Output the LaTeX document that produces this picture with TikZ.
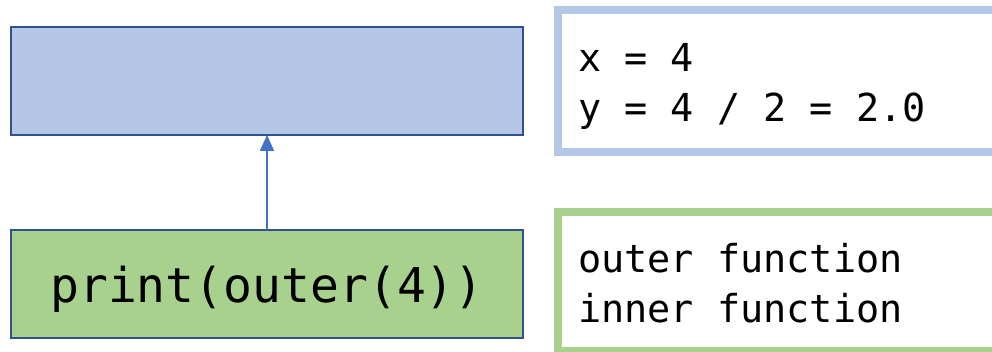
\documentclass[tikz,border=0pt]{standalone}
\usepackage{fontspec}
\setmonofont{DejaVu Sans Mono}
\usetikzlibrary{arrows.meta}
\definecolor{boxblue}{HTML}{B4C7E7}
\definecolor{boxgreen}{HTML}{A9D18E}
\definecolor{edgeblue}{HTML}{2F528F}
\definecolor{arrowblue}{HTML}{4472C4}
\tikzset{
  stackbox/.style={draw=edgeblue, line width=2.5pt, minimum width=512pt, minimum height=108pt, inner sep=0pt, outer sep=0pt},
  frame/.style={line width=8pt, minimum width=442pt, inner sep=0pt, outer sep=0pt},
  bigcode/.style={font=\ttfamily\fontsize{48pt}{50pt}\selectfont, inner sep=0pt, anchor=base},
  code/.style={font=\ttfamily\fontsize{38.5pt}{50pt}\selectfont, inner sep=0pt, anchor=base west},
}
\begin{document}
\begin{tikzpicture}[x=1pt,y=-1pt]
\useasboundingbox (0,0) rectangle (992,352);
\clip (0,0) rectangle (992,352);
\node[stackbox, fill=boxblue] (frame) at (267,81) {};
\node[stackbox, fill=boxgreen] (call) at (267,284) {};
\node[bigcode] (calltext) at (267,302) {print(outer(4))};
\draw[arrowblue, line width=2pt, -{Triangle[width=14pt,length=16pt]}] (call.north) -- (frame.south);
\node[frame, draw=boxblue, minimum height=142pt] (vars) at (779,81) {};
\node[code] (v1) at (578,72) {x = 4};
\node[code] (v2) at (578,122) {y = 4 / 2 = 2.0};
\node[frame, draw=boxgreen, minimum height=139pt] (out) at (779,281.5) {};
\node[code] (o1) at (578,273) {outer function};
\node[code] (o2) at (578,323) {inner function};
\end{tikzpicture}
\end{document}
